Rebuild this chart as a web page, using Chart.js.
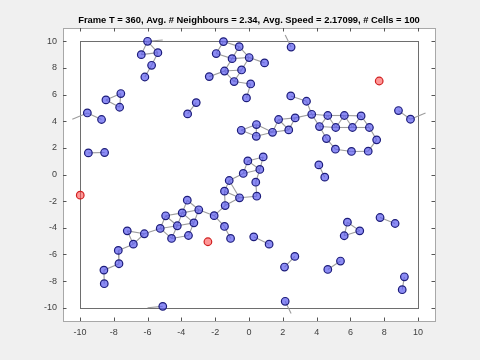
<!DOCTYPE html>
<html><head><meta charset="utf-8">
<script src="https://cdn.jsdelivr.net/npm/chart.js@4.4.1/dist/chart.umd.min.js"></script>
<style>html,body{margin:0;padding:0;background:#f0f0f0;}canvas{display:block;}</style>
</head><body>
<canvas id="c" width="480" height="360"></canvas>
<script>
const titleText = "Frame T = 360, Avg. # Neighbours = 2.34, Avg. Speed = 2.17099, # Cells = 100";
const xTicks = [-10,-8,-6,-4,-2,0,2,4,6,8,10];
const yTicks = [-10,-8,-6,-4,-2,0,2,4,6,8,10];
const cellX = [-6.0,-6.37,-5.39,-5.76,-6.16,-7.58,-8.46,-7.65,-9.56,-8.72,
  -9.5,-8.54,-3.63,-3.12,-1.51,-0.58,-1.94,-1.0,0.01,0.92,
  -1.45,-0.44,-2.35,-0.88,0.1,-0.15,2.49,7.7,2.47,3.4,
  3.71,4.66,5.64,6.63,-0.46,0.44,0.43,1.39,1.75,2.73,
  2.35,4.17,5.13,6.12,7.12,4.58,7.55,5.11,6.06,7.05,
  8.84,9.55,-0.07,0.84,-0.34,0.64,-1.17,0.4,-1.45,-0.56,
  0.46,-1.41,-2.06,-1.45,-1.09,0.28,1.19,4.13,4.48,5.82,
  6.55,5.63,7.75,8.64,2.71,2.1,5.41,4.66,9.19,9.06,
  2.14,-3.65,-2.97,-3.95,-4.93,-3.26,-4.24,-5.25,-3.58,-4.58,
  -6.19,-7.2,-6.84,-2.43,-7.73,-7.69,-8.58,-8.56,-5.1,-9.98];
const cellY = [10.0,9.0,9.15,8.2,7.32,6.08,5.6,5.05,4.62,4.13,
  1.62,1.65,4.55,5.4,9.98,9.6,9.08,8.7,8.78,8.38,
  7.77,7.85,7.35,6.98,6.8,5.75,9.57,7.02,5.9,5.5,
  4.52,4.43,4.43,4.4,3.32,3.75,2.87,3.17,4.13,4.25,
  3.35,3.6,3.53,3.53,3.53,2.7,2.6,1.9,1.73,1.75,
  4.8,4.15,1.02,1.32,0.08,0.38,-0.45,-0.58,-1.25,-1.75,
  -1.63,-2.33,-3.09,-3.9,-4.8,-4.68,-5.23,0.72,-0.2,-3.58,
  -4.23,-4.6,-3.23,-3.68,-6.15,-6.95,-6.5,-7.13,-7.68,-8.65,
  -9.52,-1.93,-2.65,-2.88,-3.1,-3.63,-3.85,-4.05,-4.58,-4.8,
  -4.45,-4.23,-5.23,-5.05,-5.7,-6.7,-7.18,-8.2,-9.9,-1.55];
const isolatedCells = [27,93,99];
const edgePairs = [
  [0,1],[0,2],[1,2],[2,3],[3,4],
  [5,6],[5,7],[6,7],[8,9],[10,11],[12,13],
  [14,15],[14,16],[15,17],[16,17],[17,18],[15,18],[18,19],[17,20],[18,21],[20,21],[20,22],[20,23],[21,23],[23,24],[24,25],
  [28,29],[29,30],
  [30,31],[31,32],[32,33],[30,41],[31,41],[31,42],[32,42],[32,43],[33,43],[33,44],[41,42],[42,43],[43,44],[41,45],[44,46],[45,47],[46,49],[47,48],[48,49],
  [30,39],[38,39],[38,40],[39,40],[37,38],[37,40],[35,36],[34,35],[34,36],[35,37],[36,37],
  [50,51],
  [52,53],[52,54],[53,55],[52,55],[54,55],[54,56],[55,57],[56,58],[57,60],[58,59],[59,60],[56,59],[58,61],[59,61],[61,62],[62,63],[63,64],[65,66],
  [67,68],[69,70],[69,71],[70,71],[72,73],[74,75],[76,77],[78,79],
  [81,82],[81,83],[82,83],[82,62],[83,84],[83,85],[82,85],[83,86],[84,86],[84,87],[85,86],[86,87],[85,88],[86,89],[88,89],[87,89],[87,90],[90,91],[90,92],[91,92],[92,94],[94,95],[95,96],[96,97]
];
const wrapPairs = [[0,98],[8,51],[26,80]];
const domainSize = 20;

const cellPoints = cellX.map((x,i)=>({x:x,y:cellY[i]}));
function linkSet(p){
  return {type:'line',data:p,showLine:true,parsing:false,normalized:false,pointRadius:0,pointHoverRadius:0,
          borderColor:'#9c9c9c',borderWidth:1.1,order:1,fill:false,tension:0,spanGaps:true};
}
const linkSets = [];
edgePairs.forEach(([a,b])=>{
  linkSets.push(linkSet([{x:cellX[a],y:cellY[a]},{x:cellX[b],y:cellY[b]}]));
});
wrapPairs.forEach(([a,b])=>{
  [[a,b],[b,a]].forEach(([p,q])=>{
    let dx = cellX[q]-cellX[p], dy = cellY[q]-cellY[p];
    dx -= Math.round(dx/domainSize)*domainSize;
    dy -= Math.round(dy/domainSize)*domainSize;
    linkSets.push(linkSet([{x:cellX[p],y:cellY[p]},{x:cellX[p]+dx,y:cellY[p]+dy}]));
  });
});

const frame = {
  id:'frame',
  beforeDraw(chart){
    const {ctx, chartArea:a} = chart;
    ctx.save();
    ctx.fillStyle='#f0f0f0'; ctx.fillRect(0,0,chart.width,chart.height);
    ctx.fillStyle='#ffffff'; ctx.fillRect(a.left,a.top,a.right-a.left,a.bottom-a.top);
    ctx.restore();
  },
  beforeDatasetsDraw(chart){
    const {ctx, scales:{x,y}} = chart;
    ctx.save();
    ctx.strokeStyle='#6e6e6e'; ctx.lineWidth=1;
    const l=Math.round(x.getPixelForValue(-10))+0.5, r=Math.round(x.getPixelForValue(10))+0.5;
    const t=Math.round(y.getPixelForValue(10))+0.5, b=Math.round(y.getPixelForValue(-10))+0.5;
    ctx.strokeRect(l,t,r-l,b-t);
    ctx.restore();
  },
  afterDraw(chart){
    const {ctx, chartArea:a, scales:{x,y}} = chart;
    ctx.save();
    ctx.strokeStyle='#a8a8a8'; ctx.lineWidth=1;
    ctx.strokeRect(Math.round(a.left)+0.5,Math.round(a.top)+0.5,Math.round(a.right-a.left),Math.round(a.bottom-a.top));
    ctx.strokeStyle='#555';
    ctx.beginPath();
    xTicks.forEach(v=>{const px=Math.round(x.getPixelForValue(v))+0.5;
      ctx.moveTo(px,a.bottom); ctx.lineTo(px,a.bottom-3.5);
      ctx.moveTo(px,a.top); ctx.lineTo(px,a.top+3.5);});
    yTicks.forEach(v=>{const py=Math.round(y.getPixelForValue(v))+0.5;
      ctx.moveTo(a.left,py); ctx.lineTo(a.left+3.5,py);
      ctx.moveTo(a.right,py); ctx.lineTo(a.right-3.5,py);});
    ctx.stroke();
    ctx.fillStyle='#000';
    ctx.font='bold 9.4px "Liberation Sans", Arial, sans-serif';
    ctx.textAlign='center'; ctx.textBaseline='middle';
    ctx.fillText(titleText,(a.left+a.right)/2,20.5);
    ctx.restore();
  }
};

new Chart(document.getElementById('c'),{
  type:'scatter',
  data:{datasets:[
    {label:'cells',data:cellPoints,order:0,
     pointRadius:3.8,pointBorderWidth:1.2,
     pointBackgroundColor:ctx=>isolatedCells.includes(ctx.dataIndex)?'rgba(255,80,80,0.6)':'rgba(95,95,240,0.72)',
     pointBorderColor:ctx=>isolatedCells.includes(ctx.dataIndex)?'#d02020':'#1c1c7a'}
  ].concat(linkSets)},
  options:{
    responsive:false,animation:false,devicePixelRatio:1,
    layout:{padding:{left:0,right:45,top:28,bottom:0}},
    plugins:{legend:{display:false},tooltip:{enabled:false},title:{display:false}},
    scales:{
      x:{type:'linear',min:-11,max:11,
         afterBuildTicks:s=>{s.ticks=xTicks.map(v=>({value:v}));},
         afterFit:s=>{s.height=39;},
         grid:{display:false,drawTicks:false},border:{display:false},
         ticks:{padding:6,color:'#404040',font:{family:'"Liberation Sans", Arial, sans-serif',size:9},maxRotation:0,autoSkip:false}},
      y:{type:'linear',min:-11,max:11,
         afterBuildTicks:s=>{s.ticks=yTicks.map(v=>({value:v}));},
         afterFit:s=>{s.width=63;},
         grid:{display:false,drawTicks:false},border:{display:false},
         ticks:{padding:6,color:'#404040',font:{family:'"Liberation Sans", Arial, sans-serif',size:9},autoSkip:false}}
    }
  },
  plugins:[frame]
});
</script>
</body></html>
